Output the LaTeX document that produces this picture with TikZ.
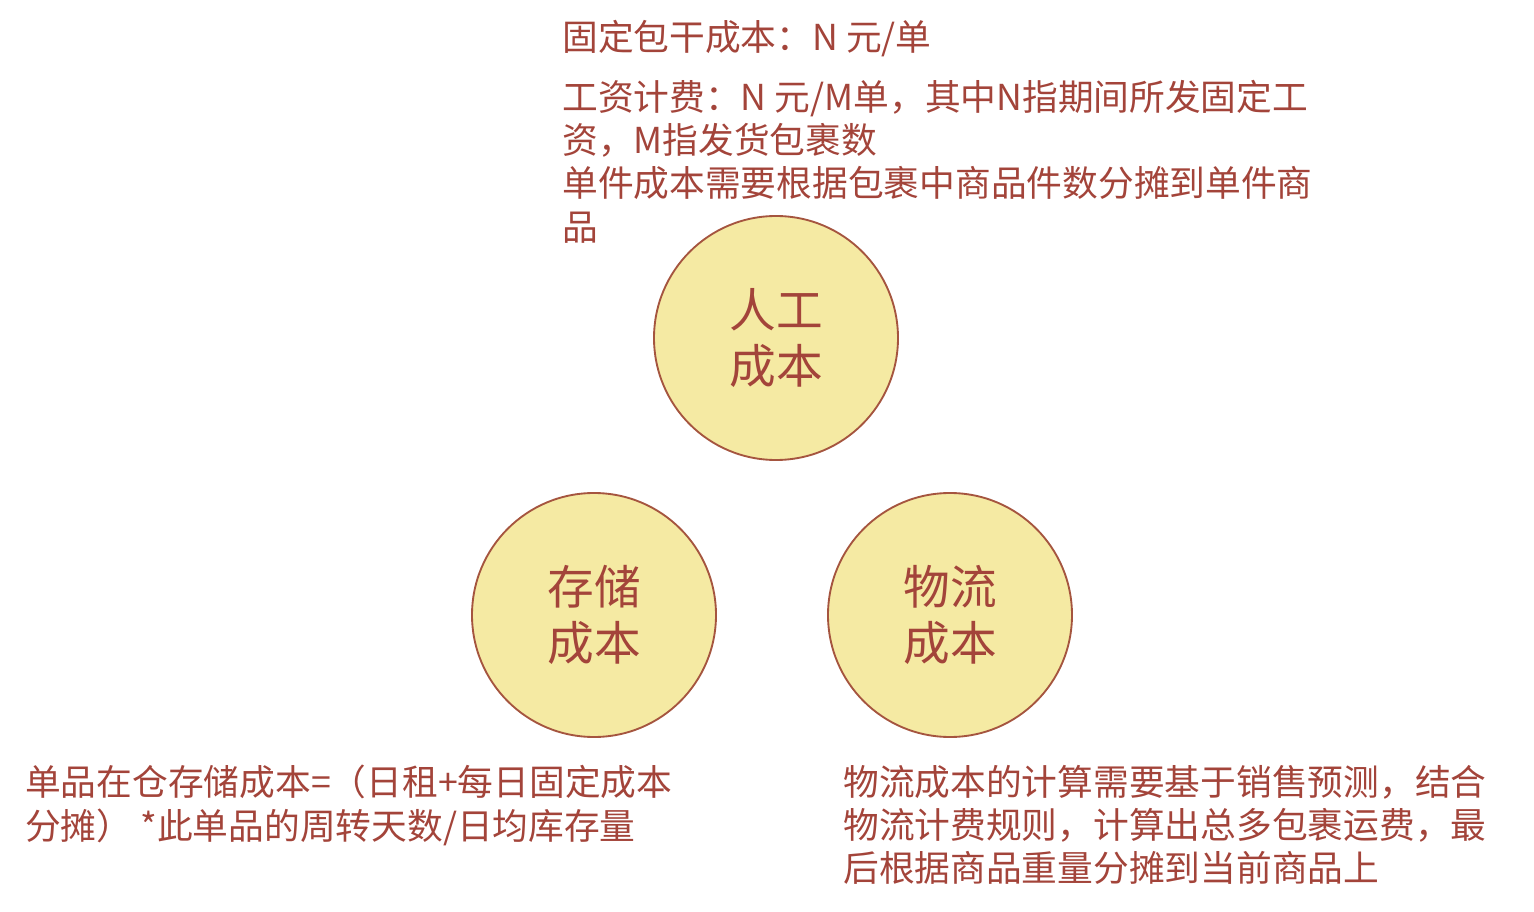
\documentclass[tikz,border=0pt]{standalone}
\usepackage{fontspec}
\setmainfont{Noto Sans CJK SC}
\usepackage{tikz}

\definecolor{costfill}{HTML}{F5EAA3}
\definecolor{costline}{HTML}{A5553F}
\definecolor{costtext}{HTML}{A3443A}

\begin{document}
\begin{tikzpicture}[x=0.75pt,y=-0.75pt,
        cost node/.style={circle,draw=costline,fill=costfill,line width=1.4pt,minimum size=183pt,inner sep=0pt,align=center,text=costtext,font=\fontsize{35}{41.5}\selectfont},
        note/.style={anchor=north west,align=left,inner sep=0pt,text=costtext,font=\fontsize{26.8}{32.4}\selectfont}]

    \useasboundingbox (0,0) rectangle (1534,912);

    \node[cost node] (labor) at (776,338) {人工\\成本};
    \node[cost node] (storage) at (594,615) {存储\\成本};
    \node[cost node] (logistics) at (950,615) {物流\\成本};

    \node[note] (laborfix) at (562,20) {固定包干成本：N 元/单};
    \node[note] (laborpay) at (562,80) {工资计费：N 元/M单，其中N指期间所发固定工\\资，M指发货包裹数\\单件成本需要根据包裹中商品件数分摊到单件商\\品};
    \node[note] (storagenote) at (25,765) {单品在仓存储成本=（日租+每日固定成本\\分摊） *此单品的周转天数/日均库存量};
    \node[note] (logisticsnote) at (843,765) {物流成本的计算需要基于销售预测，结合\\物流计费规则，计算出总多包裹运费，最\\后根据商品重量分摊到当前商品上};

\end{tikzpicture}
\end{document}
